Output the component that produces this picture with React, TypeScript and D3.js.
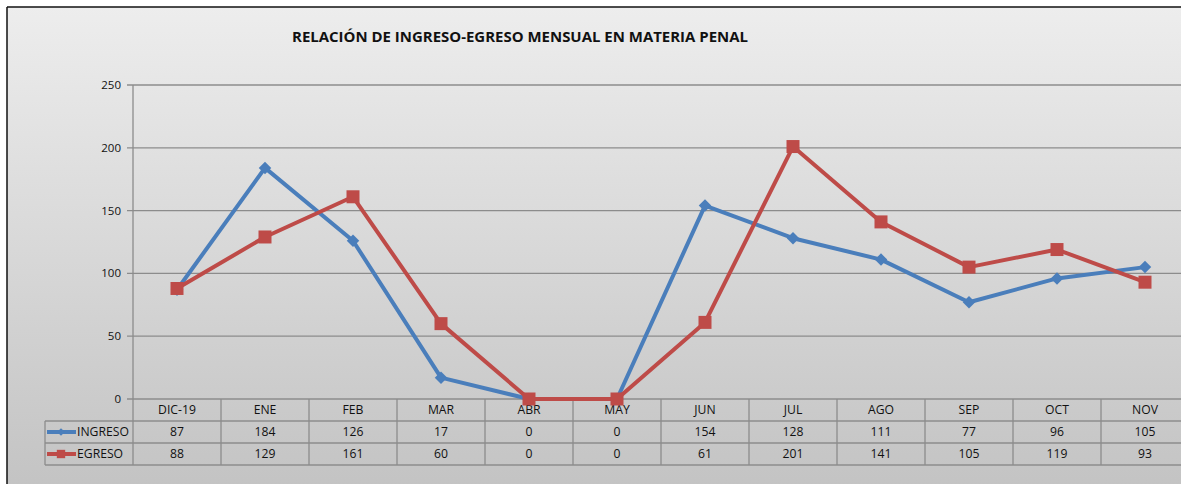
import React from "react";
import * as d3 from "d3";

// data
const months = ["DIC-19", "ENE", "FEB", "MAR", "ABR", "MAY", "JUN", "JUL", "AGO", "SEP", "OCT", "NOV"];
const ingreso = [87, 184, 126, 17, 0, 0, 154, 128, 111, 77, 96, 105];
const egreso = [88, 129, 161, 60, 0, 0, 61, 201, 141, 105, 119, 93];
const yTicks = [0, 50, 100, 150, 200, 250];
const title = "RELACIÓN DE INGRESO-EGRESO MENSUAL EN MATERIA PENAL";

const W = 1181;
const H = 484;
const left = 133;
const right = 1189;
const top = 85;
const bottom = 399;
const rowH = 22;
const legendLeft = 45;
const font = "'Open Sans', 'Liberation Sans', sans-serif";

const series = [
  { name: "INGRESO", values: ingreso, color: "#4a7ebb", shape: "diamond" },
  { name: "EGRESO", values: egreso, color: "#be4b48", shape: "square" },
];

const App = () => {
  const x = d3.scaleBand<string>().domain(months).range([left, right]);
  const y = d3.scaleLinear().domain([0, 250]).range([bottom, top]);
  const cx = (m: string) => (x(m) as number) + x.bandwidth() / 2;

  const line = d3
    .line<number>()
    .x((_, i) => cx(months[i]))
    .y((d) => y(d));

  const diamond = d3.symbol().type(d3.symbolSquare).size(78)();
  const square = d3.symbol().type(d3.symbolSquare).size(169)();
  const smallDiamond = d3.symbol().type(d3.symbolSquare).size(30)();
  const smallSquare = d3.symbol().type(d3.symbolSquare).size(70)();

  const marker = (shape: string, small = false) =>
    shape === "diamond" ? (small ? smallDiamond : diamond) : small ? smallSquare : square;
  const rot = (shape: string) => (shape === "diamond" ? " rotate(45)" : "");

  const gridColor = "#8c8c8c";
  const tableBottom = bottom + rowH * 3;
  const tableFont = 12.2;

  return (
    <div style={{ position: "absolute", left: 0, top: 0 }}>
      <svg width={W} height={H} style={{ display: "block" }}>
        <defs>
          <linearGradient id="bg" x1="0" y1="0" x2="0" y2="1">
            <stop offset="0" stopColor="#ededed" />
            <stop offset="1" stopColor="#c3c3c3" />
          </linearGradient>
        </defs>
        <rect x={0} y={0} width={W} height={H} fill="#fff" />
        <rect x={7} y={7} width={W} height={H} fill="url(#bg)" />
        <line x1={7} x2={7} y1={7} y2={H} stroke="#111" strokeWidth={1.5} />
        <line x1={7} x2={W} y1={7} y2={7} stroke="#111" strokeWidth={1.5} />

        <text
          x={520}
          y={42}
          textAnchor="middle"
          fontFamily={font}
          fontWeight={700}
          fontSize={15}
          fill="#111"
          textLength={456}
          lengthAdjust="spacingAndGlyphs"
        >
          {title}
        </text>

        {/* gridlines and y axis */}
        {yTicks.map((t) => (
          <g key={t}>
            <line x1={left - 6} x2={right} y1={y(t)} y2={y(t)} stroke={gridColor} strokeWidth={1.3} />
            <text
              x={left - 12}
              y={y(t)}
              dy="0.35em"
              textAnchor="end"
              fontFamily={font}
              fontSize={11.5}
              fill="#111"
            >
              {t}
            </text>
          </g>
        ))}
        <line x1={left} x2={left} y1={top} y2={tableBottom} stroke={gridColor} strokeWidth={1.3} />

        {/* data table */}
        {[1, 2, 3].map((r) => (
          <line
            key={r}
            x1={legendLeft}
            x2={right}
            y1={bottom + rowH * r}
            y2={bottom + rowH * r}
            stroke={gridColor}
            strokeWidth={1.3}
          />
        ))}
        <line x1={legendLeft} x2={legendLeft} y1={bottom + rowH} y2={tableBottom} stroke={gridColor} strokeWidth={1.3} />
        {months.map((m) => (
          <g key={m}>
            <line
              x1={(x(m) as number) + x.bandwidth()}
              x2={(x(m) as number) + x.bandwidth()}
              y1={bottom}
              y2={tableBottom}
              stroke={gridColor}
              strokeWidth={1.3}
            />
            <text
              x={cx(m)}
              y={bottom + rowH / 2}
              dy="0.35em"
              textAnchor="middle"
              fontFamily={font}
              fontSize={tableFont}
              fill="#111"
            >
              {m}
            </text>
          </g>
        ))}
        {series.map((s, si) => {
          const rowY = bottom + rowH * (si + 1) + rowH / 2;
          return (
            <g key={s.name}>
              <line x1={47} x2={76} y1={rowY} y2={rowY} stroke={s.color} strokeWidth={4} />
              <path d={marker(s.shape, true) as string} transform={`translate(61,${rowY})${rot(s.shape)}`} fill={s.color} />
              <text x={77} y={rowY} dy="0.35em" fontFamily={font} fontSize={tableFont} fill="#111">
                {s.name}
              </text>
              {s.values.map((v, i) => (
                <text
                  key={i}
                  x={cx(months[i])}
                  y={rowY}
                  dy="0.35em"
                  textAnchor="middle"
                  fontFamily={font}
                  fontSize={tableFont}
                  fill="#111"
                >
                  {v}
                </text>
              ))}
            </g>
          );
        })}

        {/* lines */}
        {series.map((s) => (
          <g key={s.name}>
            <path d={line(s.values) as string} fill="none" stroke={s.color} strokeWidth={4} strokeLinejoin="round" />
            {s.values.map((v, i) => (
              <path
                key={i}
                d={marker(s.shape) as string}
                transform={`translate(${cx(months[i])},${y(v)})${rot(s.shape)}`}
                fill={s.color}
              />
            ))}
          </g>
        ))}
      </svg>
    </div>
  );
};

export default App;
